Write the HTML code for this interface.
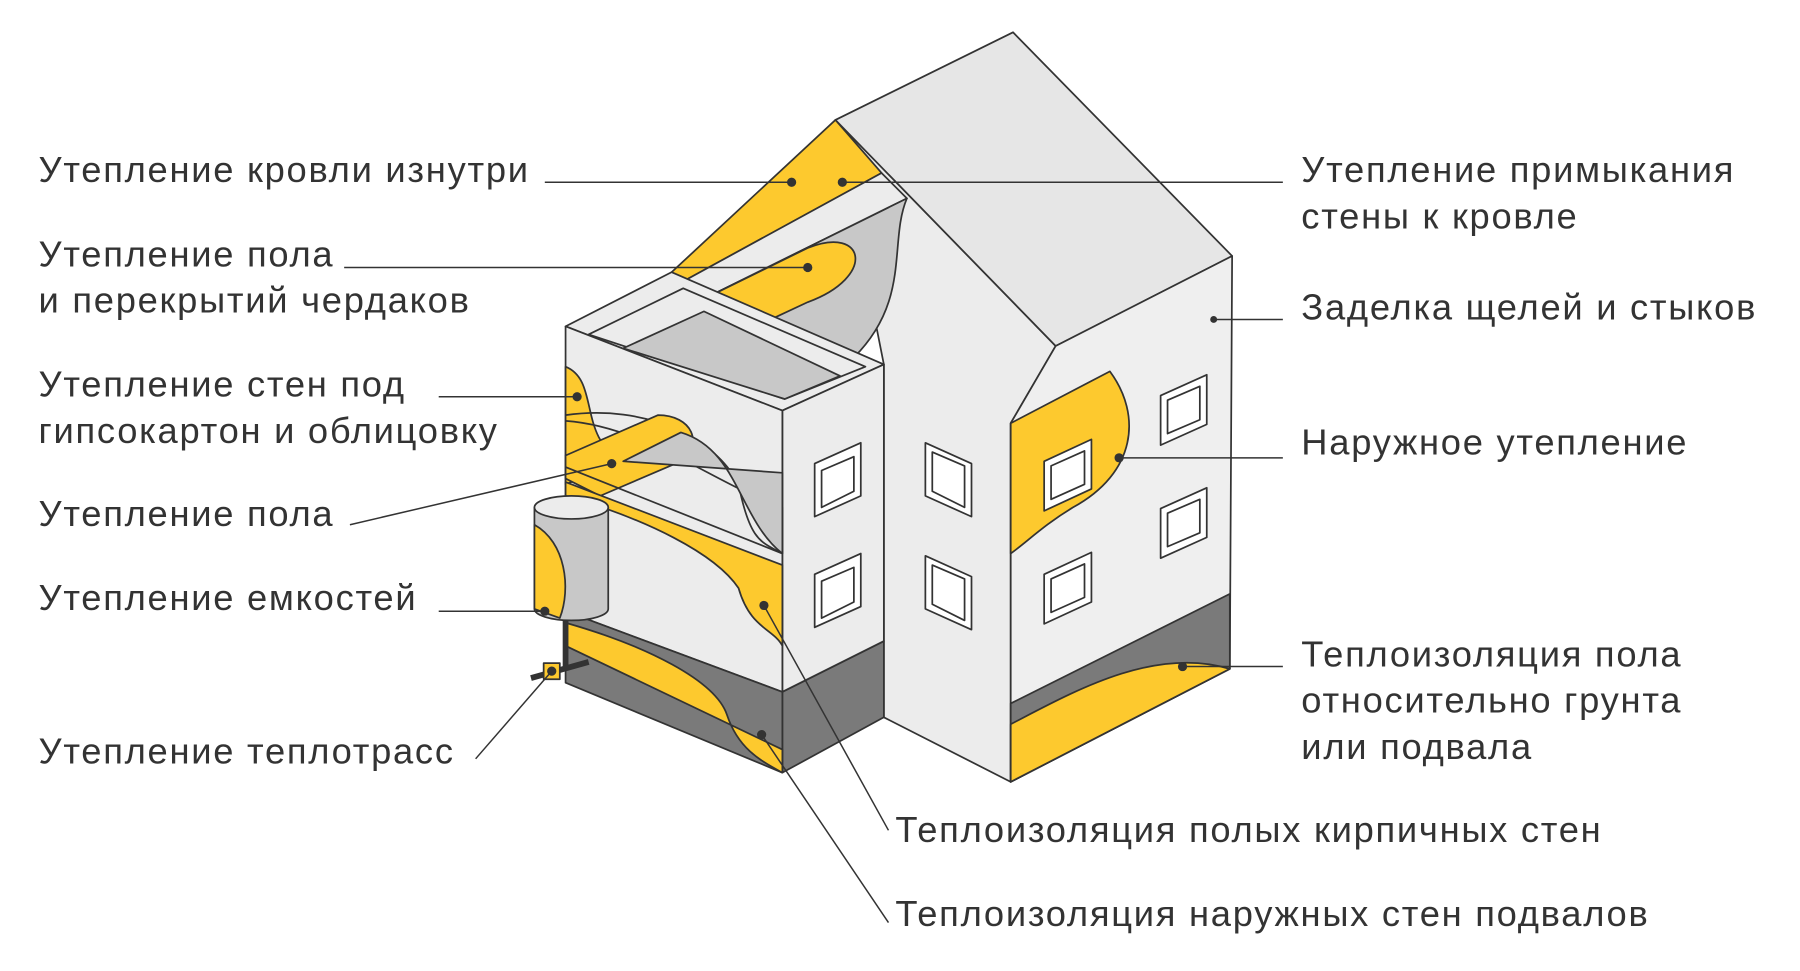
<!DOCTYPE html>
<html><head><meta charset="utf-8"><style>
html,body{margin:0;padding:0;background:#fff;}
svg{display:block}
text{font-family:"Liberation Sans",sans-serif;font-size:31.5px;letter-spacing:1.5px;fill:#333;}
</style></head><body>
<svg width="1800" height="971" viewBox="0 0 1560 842" xmlns="http://www.w3.org/2000/svg">
<g stroke="#333" stroke-width="1.5" stroke-linejoin="round">
<polygon points="724,104 915,300 876,367 876,678 766,622 766,316" fill="#ececec"/>
<polygon points="724,104 878,28 1068,222 915,300" fill="#e6e6e6"/>
<polygon points="876,367 915,300 1068,222 1066,580 876,678" fill="#efefef"/>
<polygon points="876,610 1066,515 1066,580 876,678" fill="#7a7a7a"/>
<path d="M876,628 C930,600 1000,560 1066,580 L876,678 Z" fill="#fdc92e"/>
<path d="M962,322 C990,360 985,410 930,440 C905,455 890,470 876,480 L876,367 Z" fill="#fdc92e"/>
<polygon points="582,236 724,104 764,150 592,244" fill="#fdc92e"/>
<polygon points="592,244 764,150 786,172 592,268" fill="#ececec"/>
<path d="M592,268 L786,172 C770,210 790,260 740,310 L726,322 L592,268 Z" fill="#c8c8c8"/>
<path d="M592,268 L700,215 C750,195 760,240 700,262 L640,290 Z" fill="#fdc92e"/>
<polygon points="490,283 582,236 766,316 678,356" fill="#ececec"/>
<polygon points="510,290 592,250 750,318 680,346" fill="#ececec"/>
<polygon points="540,302 610,270 728,326 680,346" fill="#c8c8c8"/>
<polygon points="678,356 766,316 766,556 678,600" fill="#ececec"/>
<polygon points="678,600 766,556 766,622 678,670" fill="#7a7a7a"/>
<polygon points="490,283 678,356 678,600 490,530" fill="#ececec"/>
<polygon points="490,530 678,600 678,670 490,592" fill="#7a7a7a"/>
<path d="M490,318 C520,330 500,380 540,400 L490,420 Z" fill="#fdc92e"/>
<path d="M490,360 C560,350 620,380 640,420 C650,470 660,470 678,480 L678,440 C620,420 560,370 490,365" fill="none"/>
<path d="M490,395 L570,360 C600,360 610,385 590,400 L520,430 L490,415 Z" fill="#fdc92e"/>
<path d="M540,400 L590,375 C640,390 640,450 678,480 L678,410 Z" fill="#c8c8c8"/>
<line x1="490" y1="405" x2="678" y2="480"/>
<path d="M490,430 C560,450 620,480 640,510 C650,545 670,545 678,560 L678,490 L490,418 Z" fill="#fdc92e"/>
<path d="M490,540 C560,560 620,590 630,620 C640,650 660,660 678,670 L678,650 L490,560 Z" fill="#fdc92e"/>
<g fill="#fff">
<polygon points="706,402 746,384 746,430 706,448"/><polygon points="712,408 740,396 740,426 712,440" fill="none"/>
<polygon points="706,498 746,480 746,526 706,544"/><polygon points="712,504 740,492 740,522 712,536" fill="none"/>
<polygon points="802,384 842,402 842,448 802,430"/><polygon points="808,392 836,404 836,440 808,426" fill="none"/>
<polygon points="802,482 842,500 842,546 802,528"/><polygon points="808,490 836,502 836,538 808,524" fill="none"/>
<polygon points="905,400 946,381 946,424 905,443"/><polygon points="911,404 940,391 940,420 911,433" fill="none"/>
<polygon points="905,498 946,479 946,522 905,541"/><polygon points="911,502 940,489 940,518 911,531" fill="none"/>
<polygon points="1006,343 1046,325 1046,368 1006,386"/><polygon points="1012,347 1040,335 1040,364 1012,376" fill="none"/>
<polygon points="1006,441 1046,423 1046,466 1006,484"/><polygon points="1012,445 1040,433 1040,462 1012,474" fill="none"/>
</g>
<path d="M463,440 L463,528 A32,10 0 0 0 527,528 L527,440 Z" fill="#c8c8c8"/>
<path d="M463,455 C490,470 495,510 485,536 L463,528 Z" fill="#fdc92e"/>
<ellipse cx="495" cy="440" rx="32" ry="10" fill="#ececec"/>
<line x1="490" y1="538" x2="490" y2="580" stroke-width="5"/>
<line x1="460" y1="588" x2="510" y2="574" stroke-width="5"/>
<rect x="471" y="575" width="14" height="14" fill="#fdc92e"/>
</g>
<g stroke="#333" stroke-width="1.3" fill="none">
<line x1="472" y1="158" x2="686" y2="158"/>
<line x1="730" y1="158" x2="1112" y2="158"/>
<line x1="298" y1="232" x2="700" y2="232"/>
<line x1="380" y1="344" x2="500" y2="344"/>
<line x1="303" y1="455" x2="530" y2="402"/>
<line x1="380" y1="530" x2="472" y2="530"/>
<line x1="412" y1="658" x2="478" y2="582"/>
<line x1="1052" y1="277" x2="1112" y2="277"/>
<line x1="970" y1="397" x2="1112" y2="397"/>
<line x1="1025" y1="578" x2="1112" y2="578"/>
<line x1="662" y1="525" x2="770" y2="720"/>
<line x1="660" y1="637" x2="770" y2="800"/>
</g>
<g fill="#333">
<circle cx="686" cy="158" r="4"/><circle cx="730" cy="158" r="4"/><circle cx="700" cy="232" r="4"/>
<circle cx="500" cy="344" r="4"/><circle cx="530" cy="402" r="4"/><circle cx="472" cy="530" r="4"/>
<circle cx="478" cy="582" r="4"/><circle cx="1052" cy="277" r="3"/><circle cx="970" cy="397" r="4"/>
<circle cx="1025" cy="578" r="4"/><circle cx="662" cy="525" r="4"/><circle cx="660" cy="637" r="4"/>
</g>
<text x="33" y="158">Утепление кровли изнутри</text>
<text x="33" y="231">Утепление пола</text>
<text x="33" y="271">и перекрытий чердаков</text>
<text x="33" y="344">Утепление стен под</text>
<text x="33" y="384">гипсокартон и облицовку</text>
<text x="33" y="456">Утепление пола</text>
<text x="33" y="529">Утепление емкостей</text>
<text x="33" y="662">Утепление теплотрасс</text>
<text x="1128" y="158">Утепление примыкания</text>
<text x="1128" y="198">стены к кровле</text>
<text x="1128" y="277">Заделка щелей и стыков</text>
<text x="1128" y="394">Наружное утепление</text>
<text x="1128" y="578">Теплоизоляция пола</text>
<text x="1128" y="618">относительно грунта</text>
<text x="1128" y="658">или подвала</text>
<text x="776" y="730">Теплоизоляция полых кирпичных стен</text>
<text x="776" y="803">Теплоизоляция наружных стен подвалов</text>
</svg>
</body></html>
